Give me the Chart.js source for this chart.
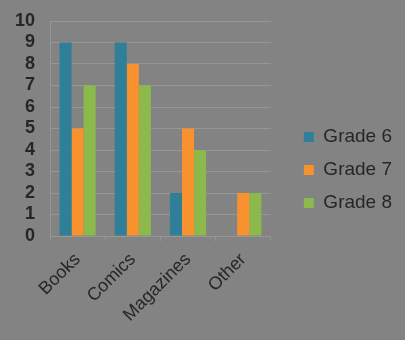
<!DOCTYPE html>
<html>
<head>
<meta charset="utf-8">
<script src="https://cdn.jsdelivr.net/npm/chart.js@4.4.0/dist/chart.umd.min.js"></script>
<style>
  html, body { margin: 0; padding: 0; background: #838383; }
  #wrap { width: 405px; height: 340px; }
</style>
</head>
<body>
<div id="wrap"><canvas id="chart"></canvas></div>
<script>
const categories = ['Books', 'Comics', 'Magazines', 'Other'];
const grade6 = [9, 9, 2, 0];
const grade7 = [5, 8, 5, 2];
const grade8 = [7, 7, 4, 2];

const textColor = '#262626';
const gridColor = '#969696';
const fontFamily = 'Liberation Sans, Arial, sans-serif';

const ctx = document.getElementById('chart').getContext('2d');

const myChart = new Chart(ctx, {
    type: 'bar',
    data: {
        labels: categories,
        datasets: [
            { label: 'Grade 6', data: grade6, backgroundColor: '#2e7f97' },
            { label: 'Grade 7', data: grade7, backgroundColor: '#f7922f' },
            { label: 'Grade 8', data: grade8, backgroundColor: '#8cb94b' }
        ]
    },
    options: {
        responsive: true,
        maintainAspectRatio: false,
        animation: false,
        layout: { padding: { left: 12, top: 0, right: 3, bottom: 0 } },
        datasets: { bar: { categoryPercentage: 0.655, barPercentage: 1.0 } },
        plugins: {
            legend: {
                position: 'right',
                maxWidth: 140,
                labels: {
                    color: textColor,
                    font: { family: fontFamily, size: 19 },
                    boxWidth: 10,
                    boxHeight: 10,
                    padding: 14
                }
            },
            tooltip: { enabled: false }
        },
        scales: {
            x: {
                grid: { display: true, drawOnChartArea: false, color: gridColor, tickLength: 5, offset: true },
                border: { color: gridColor },
                ticks: {
                    color: textColor,
                    font: { family: fontFamily, size: 18 },
                    maxRotation: 45,
                    minRotation: 45,
                    padding: 8
                },
                afterFit(scale) {
                    scale.paddingLeft = 0;
                    scale.paddingRight = 0;
                    scale.height = 104;
                }
            },
            y: {
                min: 0,
                max: 10,
                grid: { color: gridColor, drawTicks: false },
                border: { color: gridColor },
                ticks: {
                    stepSize: 1,
                    autoSkip: false,
                    color: textColor,
                    font: { family: fontFamily, size: 18, weight: 'bold' },
                    padding: 15
                },
                afterFit(scale) {
                    scale.width = 38;
                    scale.paddingTop = 21;
                    scale.paddingBottom = 0;
                }
            },
            gap: {
                type: 'linear',
                axis: 'y',
                position: 'right',
                grid: { display: false },
                border: { display: false },
                ticks: { display: false },
                afterFit(scale) {
                    scale.width = 19;
                    scale.paddingTop = 0;
                    scale.paddingBottom = 0;
                }
            }
        }
    }
});
</script>
</body>
</html>
